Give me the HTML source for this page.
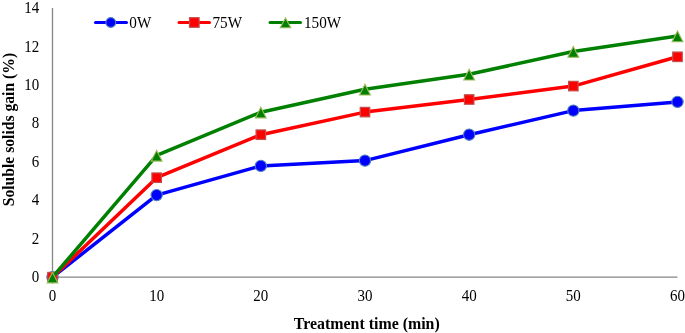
<!DOCTYPE html>
<html><head><meta charset="utf-8"><title>Soluble solids gain chart</title>
<style>
html,body{margin:0;padding:0;background:#fff;}
body{width:685px;height:333px;overflow:hidden;}
svg{display:block;will-change:transform;}
text{font-family:"Liberation Serif",serif;fill:#000;}
.tick text{font-size:15px;}
.leg{font-size:15.2px;}
.title{font-size:15.9px;font-weight:bold;}
</style></head>
<body>
<svg width="685" height="333" viewBox="0 0 685 333">
<rect width="685" height="333" fill="#fff"/>
<line x1="52.5" y1="8" x2="52.5" y2="277.2" stroke="#868686" stroke-width="1.3"/>
<line x1="52.5" y1="277.2" x2="677.5" y2="277.2" stroke="#868686" stroke-width="1.3"/>
<g class="tick"><text transform="translate(39.2,282.10) scale(1,1.1)" text-anchor="end">0</text><text transform="translate(39.2,243.67) scale(1,1.1)" text-anchor="end">2</text><text transform="translate(39.2,205.24) scale(1,1.1)" text-anchor="end">4</text><text transform="translate(39.2,166.81) scale(1,1.1)" text-anchor="end">6</text><text transform="translate(39.2,128.39) scale(1,1.1)" text-anchor="end">8</text><text transform="translate(39.2,89.96) scale(1,1.1)" text-anchor="end">10</text><text transform="translate(39.2,51.53) scale(1,1.1)" text-anchor="end">12</text><text transform="translate(39.2,13.10) scale(1,1.1)" text-anchor="end">14</text></g>
<g class="tick"><text transform="translate(52.50,300.7) scale(1,1.1)" text-anchor="middle">0</text><text transform="translate(156.67,300.7) scale(1,1.1)" text-anchor="middle">10</text><text transform="translate(260.83,300.7) scale(1,1.1)" text-anchor="middle">20</text><text transform="translate(365.00,300.7) scale(1,1.1)" text-anchor="middle">30</text><text transform="translate(469.17,300.7) scale(1,1.1)" text-anchor="middle">40</text><text transform="translate(573.33,300.7) scale(1,1.1)" text-anchor="middle">50</text><text transform="translate(677.50,300.7) scale(1,1.1)" text-anchor="middle">60</text></g>
<polyline points="52.50,277.20 156.67,195.10 260.83,165.90 365.00,160.60 469.17,134.70 573.33,110.60 677.50,101.90" fill="none" stroke="#0000FF" stroke-width="3.5" stroke-linejoin="round" stroke-linecap="round"/>
<circle cx="52.50" cy="277.20" r="5.65" fill="#0000FF" stroke="#4F81BD" stroke-width="1.1"/>
<circle cx="156.67" cy="195.10" r="5.65" fill="#0000FF" stroke="#4F81BD" stroke-width="1.1"/>
<circle cx="260.83" cy="165.90" r="5.65" fill="#0000FF" stroke="#4F81BD" stroke-width="1.1"/>
<circle cx="365.00" cy="160.60" r="5.65" fill="#0000FF" stroke="#4F81BD" stroke-width="1.1"/>
<circle cx="469.17" cy="134.70" r="5.65" fill="#0000FF" stroke="#4F81BD" stroke-width="1.1"/>
<circle cx="573.33" cy="110.60" r="5.65" fill="#0000FF" stroke="#4F81BD" stroke-width="1.1"/>
<circle cx="677.50" cy="101.90" r="5.65" fill="#0000FF" stroke="#4F81BD" stroke-width="1.1"/>
<polyline points="52.50,277.20 156.67,177.70 260.83,134.70 365.00,112.10 469.17,99.50 573.33,86.10 677.50,56.80" fill="none" stroke="#FF0000" stroke-width="3.5" stroke-linejoin="round" stroke-linecap="round"/>
<rect x="47.75" y="272.45" width="9.5" height="9.5" fill="#FF0000" stroke="#C0504D" stroke-width="1.2"/>
<rect x="151.92" y="172.95" width="9.5" height="9.5" fill="#FF0000" stroke="#C0504D" stroke-width="1.2"/>
<rect x="256.08" y="129.95" width="9.5" height="9.5" fill="#FF0000" stroke="#C0504D" stroke-width="1.2"/>
<rect x="360.25" y="107.35" width="9.5" height="9.5" fill="#FF0000" stroke="#C0504D" stroke-width="1.2"/>
<rect x="464.42" y="94.75" width="9.5" height="9.5" fill="#FF0000" stroke="#C0504D" stroke-width="1.2"/>
<rect x="568.58" y="81.35" width="9.5" height="9.5" fill="#FF0000" stroke="#C0504D" stroke-width="1.2"/>
<rect x="672.75" y="52.05" width="9.5" height="9.5" fill="#FF0000" stroke="#C0504D" stroke-width="1.2"/>
<polyline points="52.50,277.20 156.67,155.40 260.83,112.20 365.00,89.30 469.17,74.30 573.33,51.50 677.50,36.00" fill="none" stroke="#008000" stroke-width="3.5" stroke-linejoin="round" stroke-linecap="round"/>
<polygon points="52.50,272.20 57.90,282.90 47.10,282.90" fill="#008000" stroke="#9BBB59" stroke-width="1.1" stroke-linejoin="miter"/>
<polygon points="156.67,150.40 162.07,161.10 151.27,161.10" fill="#008000" stroke="#9BBB59" stroke-width="1.1" stroke-linejoin="miter"/>
<polygon points="260.83,107.20 266.23,117.90 255.43,117.90" fill="#008000" stroke="#9BBB59" stroke-width="1.1" stroke-linejoin="miter"/>
<polygon points="365.00,84.30 370.40,95.00 359.60,95.00" fill="#008000" stroke="#9BBB59" stroke-width="1.1" stroke-linejoin="miter"/>
<polygon points="469.17,69.30 474.57,80.00 463.77,80.00" fill="#008000" stroke="#9BBB59" stroke-width="1.1" stroke-linejoin="miter"/>
<polygon points="573.33,46.50 578.73,57.20 567.93,57.20" fill="#008000" stroke="#9BBB59" stroke-width="1.1" stroke-linejoin="miter"/>
<polygon points="677.50,31.00 682.90,41.70 672.10,41.70" fill="#008000" stroke="#9BBB59" stroke-width="1.1" stroke-linejoin="miter"/>
<line x1="95.5" y1="22.5" x2="126.5" y2="22.5" stroke="#0000FF" stroke-width="3" stroke-linecap="round"/>
<circle cx="110.80" cy="22.50" r="4.9" fill="#0000FF" stroke="#4F81BD" stroke-width="1.1"/>
<text class="leg" transform="translate(129.3,27.5) scale(1,1.1)">0W</text>
<line x1="179" y1="22.5" x2="209.5" y2="22.5" stroke="#FF0000" stroke-width="3" stroke-linecap="round"/>
<rect x="189.50" y="17.70" width="9.6" height="9.6" fill="#FF0000" stroke="#C0504D" stroke-width="1.2"/>
<text class="leg" transform="translate(212.5,27.5) scale(1,1.1)">75W</text>
<line x1="270" y1="22.5" x2="300.5" y2="22.5" stroke="#008000" stroke-width="3" stroke-linecap="round"/>
<polygon points="285.50,17.95 290.75,27.75 280.25,27.75" fill="#008000" stroke="#9BBB59" stroke-width="1.1" stroke-linejoin="miter"/>
<text class="leg" transform="translate(304.0,27.5) scale(1,1.1)">150W</text>
<text class="title" x="366.8" y="328.5" text-anchor="middle">Treatment time (min)</text>
<text class="title" style="font-size:15.65px" transform="translate(13.8,129.6) rotate(-90)" text-anchor="middle">Soluble solids gain (%)</text>
</svg>
</body></html>
